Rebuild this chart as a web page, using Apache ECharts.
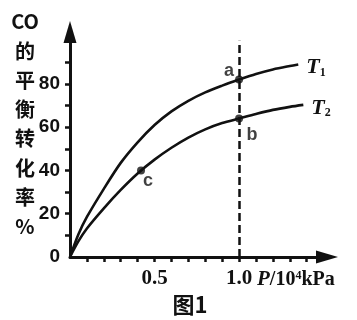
<!DOCTYPE html>
<html>
<head>
<meta charset="utf-8">
<script src="https://cdn.jsdelivr.net/npm/echarts@6/dist/echarts.min.js"></script>
<style>
html,body{margin:0;padding:0;background:#fff}
#J-chart{width:357px;height:320px}
</style>
</head>
<body>
<div id="J-chart"></div>
<script>
// 压强 P/10^4 kPa 与 CO 平衡转化率 (%)
const pressT1 = [0, 0.05, 0.1, 0.2, 0.3, 0.4, 0.5, 0.6, 0.7, 0.8, 0.9, 1.0, 1.1, 1.2, 1.3, 1.35];
const rateT1  = [0, 10.5, 18.5, 31.5, 43.5, 53, 61, 67.3, 72.2, 76.1, 79.2, 82, 84.6, 86.7, 88.3, 89];
const pressT2 = [0, 0.05, 0.1, 0.2, 0.3, 0.4, 0.5, 0.6, 0.7, 0.8, 0.9, 1.0, 1.1, 1.2, 1.3, 1.38];
const rateT2  = [0, 7.3, 13.2, 22.5, 31, 38.6, 45, 50.5, 55.2, 59, 61.9, 64, 66.1, 68, 69.4, 70.3];

// 标注点 a b c
const pointNames = ['a', 'b', 'c'];
const pointPress = [1.0, 1.0, 0.42];
const pointRate  = [82, 64, 40];

const yLabels = [0, 20, 40, 60, 80];
const yTicks  = [10, 20, 30, 40, 50, 60, 70, 80, 90];
const xLabels = [0.5, 1.0];
const xTicks  = [0.1, 0.2, 0.3, 0.4, 0.5, 0.6, 0.7, 0.8, 0.9, 1.0, 1.1, 1.2, 1.3, 1.4];

const ink = '#111';

const zip = (xs, ys) => xs.map((x, i) => [x, ys[i]]);

const labelOffset = {a: [-10, -9], b: [13, 16], c: [7, 11]};

const richT = {
    t: {fontFamily: 'Liberation Serif', fontStyle: 'italic', fontWeight: 'bold', fontSize: 22, color: ink},
    s: {fontFamily: 'Liberation Serif', fontWeight: 'bold', fontSize: 12, verticalAlign: 'bottom', color: ink}
};

const option = {
    animation: false,
    backgroundColor: '#fff',
    grid: {left: 70, right: 30, top: 32, bottom: 63},
    xAxis: {
        type: 'value',
        min: 0,
        max: 1.52,
        splitLine: {show: false},
        axisLine: {
            lineStyle: {color: ink, width: 3},
            symbol: ['none', 'triangle'],
            symbolSize: [13, 22]
        },
        axisTick: {
            customValues: xTicks,
            length: 5,
            lineStyle: {color: ink, width: 2.5}
        },
        axisLabel: {
            customValues: xLabels,
            formatter: v => v.toFixed(1),
            margin: 11,
            color: ink,
            fontFamily: 'Liberation Serif',
            fontWeight: 'bold',
            fontSize: 21
        }
    },
    yAxis: {
        type: 'value',
        min: 0,
        max: 104,
        splitLine: {show: false},
        axisLine: {
            lineStyle: {color: ink, width: 3},
            symbol: ['none', 'triangle'],
            symbolSize: [13, 22]
        },
        axisTick: {
            customValues: yTicks,
            length: 5,
            lineStyle: {color: ink, width: 2.5}
        },
        axisLabel: {
            customValues: yLabels,
            margin: 10,
            color: ink,
            fontFamily: 'Liberation Sans',
            fontWeight: 'bold',
            fontSize: 19
        }
    },
    graphic: [
        {
            type: 'text',
            x: 25,
            y: 7,
            style: {
                text: 'CO\n的\n平\n衡\n转\n化\n率\n%',
                font: 'bold 20px "Noto Sans CJK SC"',
                lineHeight: 29.3,
                textAlign: 'center',
                textVerticalAlign: 'top',
                fill: ink
            }
        },
        {
            type: 'text',
            x: 257,
            y: 280,
            style: {
                text: '{p|P}{n|/10}{s|4}{n|kPa}',
                textVerticalAlign: 'middle',
                fill: ink,
                rich: {
                    p: {fontFamily: 'Liberation Serif', fontStyle: 'italic', fontWeight: 'bold', fontSize: 21, fill: ink},
                    n: {fontFamily: 'Liberation Serif', fontWeight: 'bold', fontSize: 20, fill: ink},
                    s: {fontFamily: 'Liberation Serif', fontWeight: 'bold', fontSize: 12, verticalAlign: 'top', fill: ink}
                }
            }
        },
        {
            type: 'text',
            x: 190,
            y: 305,
            style: {
                text: '图1',
                font: 'bold 22px "Noto Sans CJK SC"',
                textAlign: 'center',
                textVerticalAlign: 'middle',
                fill: ink
            }
        }
    ],
    series: [
        {
            name: 'T1',
            type: 'line',
            data: zip(pressT1, rateT1),
            smooth: 0.3,
            symbol: 'none',
            lineStyle: {color: ink, width: 2.6},
            endLabel: {
                show: true,
                distance: 8,
                offset: [0, 3],
                formatter: '{t|T}{s|1}',
                rich: richT
            },
            markLine: {
                silent: true,
                symbol: ['none', 'none'],
                label: {show: false},
                lineStyle: {color: ink, width: 2.5, type: [8, 4]},
                data: [[{coord: [1.0, 0]}, {coord: [1.0, 100]}]]
            },
            z: 3
        },
        {
            name: 'T2',
            type: 'line',
            data: zip(pressT2, rateT2),
            smooth: 0.3,
            symbol: 'none',
            lineStyle: {color: ink, width: 2.6},
            endLabel: {
                show: true,
                distance: 8,
                offset: [0, 3],
                formatter: '{t|T}{s|2}',
                rich: richT
            },
            z: 3
        },
        {
            name: 'points',
            type: 'scatter',
            symbolSize: 8,
            itemStyle: {color: ink},
            data: pointNames.map((n, i) => ({
                name: n,
                value: [pointPress[i], pointRate[i]],
                label: {
                    show: true,
                    formatter: '{b}',
                    position: 'inside',
                    offset: labelOffset[n],
                    color: ink,
                    fontFamily: 'Liberation Sans',
                    fontWeight: 'bold',
                    fontSize: 18
                }
            })),
            z: 4
        }
    ]
};

const chart = echarts.init(document.getElementById('J-chart'));
chart.setOption(option);
</script>
</body>
</html>
